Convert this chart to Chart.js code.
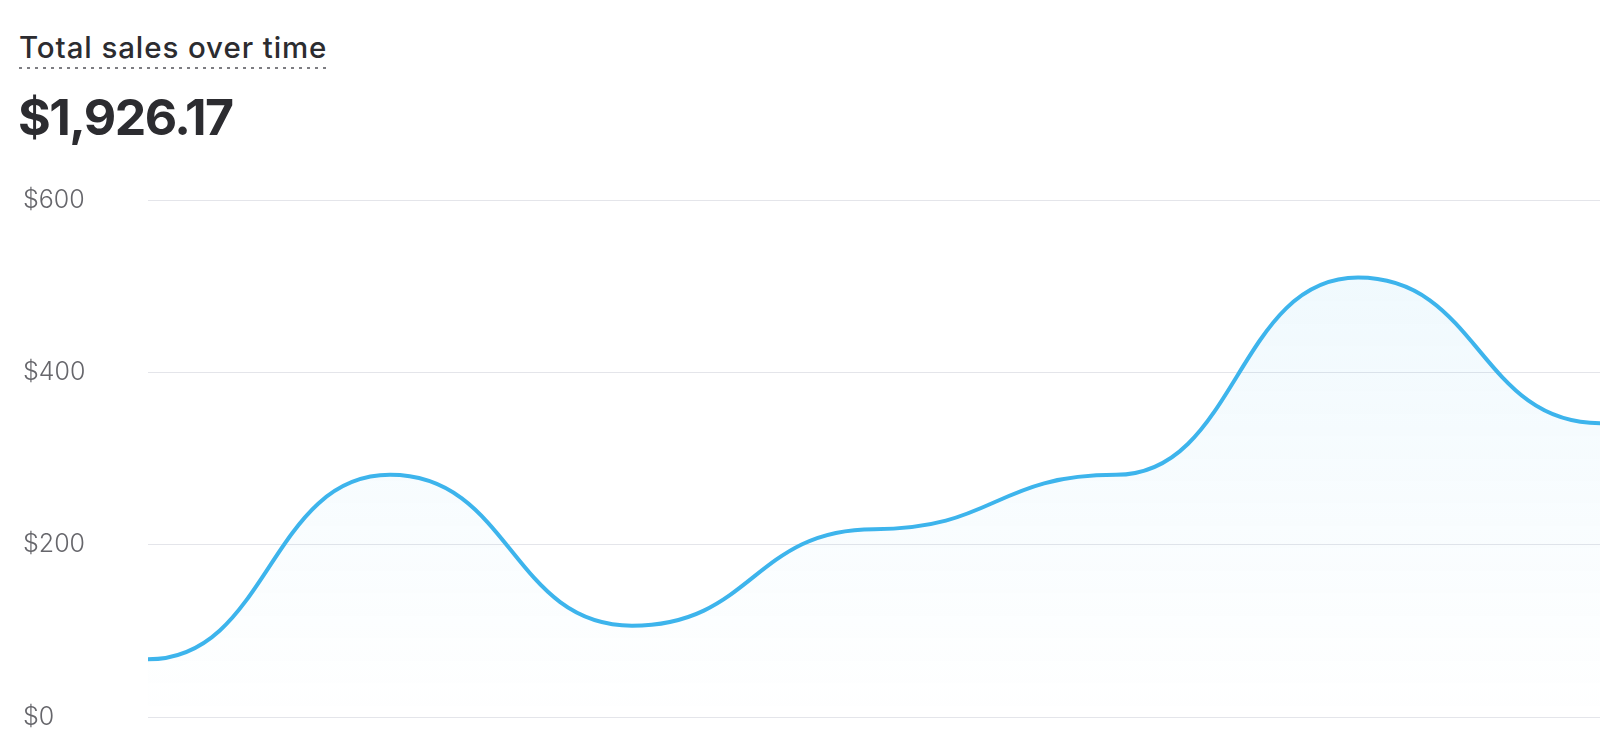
<!DOCTYPE html>
<html>
<head>
<meta charset="utf-8">
<script src="https://cdn.jsdelivr.net/npm/chart.js@4.4.1/dist/chart.umd.min.js"></script>
<style>
html, body { margin: 0; padding: 0; background: #fff; overflow: hidden; }
body { width: 1600px; height: 740px; position: relative; font-family: Inter, "Noto Sans", sans-serif; color: #2c2c30; }
#title { position: absolute; left: 19px; top: 30px; font-size: 29.5px; font-weight: 550; line-height: 34px; letter-spacing: 0.9px; padding-bottom: 5px;
    background-image: linear-gradient(to right, #7d7d82 35%, rgba(255,255,255,0) 35%);
    background-size: 8px 2px; background-repeat: repeat-x; background-position: 0 100%; }
#total { position: absolute; left: 18px; top: 87px; font-size: 50px; font-weight: 700; line-height: 60px; letter-spacing: -1.5px; }
#wrap { position: absolute; left: 0; top: 170px; width: 1600px; height: 570px; }
</style>
</head>
<body>
<div id="title">Total sales over time</div>
<div id="total">$1,926.17</div>
<div id="wrap"><canvas id="chartSales"></canvas></div>
<script>
// values
const labels = ["Day 1", "Day 2", "Day 3", "Day 4", "Day 5", "Day 6", "Day 7"];
const sales = [67, 281, 106, 218, 281, 510, 341];
const yTicks = [0, 200, 400, 600];

const lineColor = "#3db4ec";

/*flat tangent at every point, like a "bump" curve*/
const bumpCurve = {
    id: "bumpCurve",
    beforeDatasetsDraw(chart) {
        chart.getSortedVisibleDatasetMetas().forEach(meta => {
            var pts = meta.data;
            for (var i = 0; i < pts.length; i++) {
                var p = pts[i], prev = pts[i - 1] || p, next = pts[i + 1] || p;
                p.cp1x = (prev.x + p.x) / 2;
                p.cp1y = p.y;
                p.cp2x = (p.x + next.x) / 2;
                p.cp2y = p.y;
            }
            meta.dataset._pointsUpdated = true;
            meta.dataset._path = undefined;
        });
    }
};

function fillGradient(context) {
    var chart = context.chart;
    var area = chart.chartArea;
    if (!area) { return null; }
    var g = chart.ctx.createLinearGradient(0, area.top, 0, area.bottom);
    g.addColorStop(0, "rgba(61,180,236,0.09)");
    g.addColorStop(1, "rgba(61,180,236,0)");
    return g;
}

var ctx = document.getElementById("chartSales").getContext("2d");
var chartSales = new Chart(ctx, {
    type: "line",
    data: {
        labels: labels,
        datasets: [{
            label: "Total sales",
            data: sales,
            borderColor: lineColor,
            borderWidth: 4,
            backgroundColor: fillGradient,
            fill: "origin",
            tension: 0.4,
            pointRadius: 0,
            pointHoverRadius: 0
        }]
    },
    options: {
        responsive: true,
        maintainAspectRatio: false,
        animation: false,
        layout: { padding: { top: 30, bottom: 23, left: 23, right: 0 } },
        plugins: { legend: { display: false }, tooltip: { enabled: false } },
        scales: {
            x: { display: false },
            y: {
                min: yTicks[0],
                max: yTicks[yTicks.length - 1],
                afterBuildTicks: (scale) => { scale.ticks = yTicks.map(v => ({ value: v })); },
                afterFit: (scale) => { scale.width = 125; },
                border: { display: false },
                grid: { color: "#e4e5ea", lineWidth: 1, drawTicks: false },
                ticks: {
                    crossAlign: "far",
                    padding: 0,
                    color: "#66666b",
                    font: { family: "Inter", size: 25, weight: 300 },
                    callback: (v) => "$" + v
                }
            }
        }
    },
    plugins: [bumpCurve]
});
</script>
</body>
</html>
